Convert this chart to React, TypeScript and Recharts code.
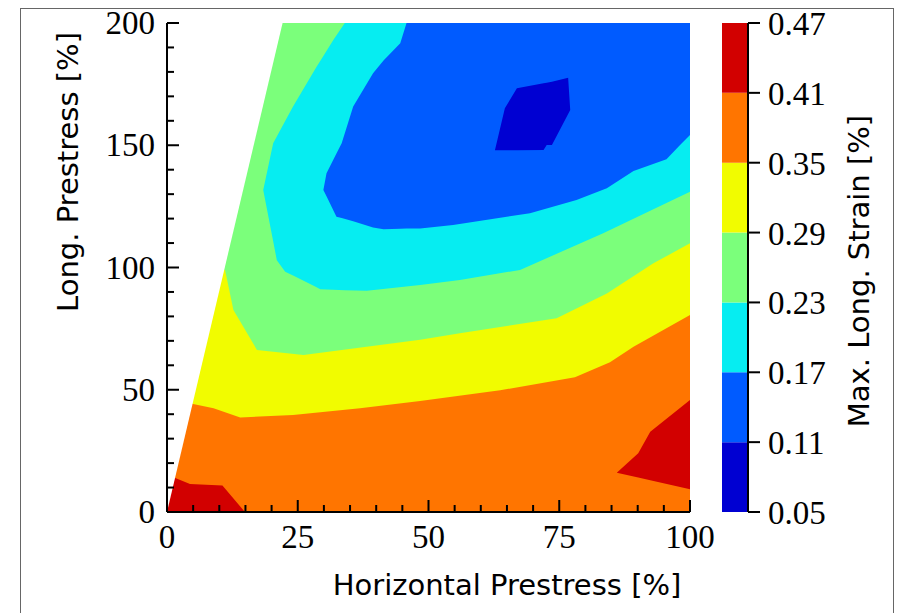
// Filled contour map of max. longitudinal strain vs. horizontal / longitudinal prestress.
import { ComposedChart, Area, XAxis, YAxis } from "recharts";

// axes
const X_MAJOR = [0, 25, 50, 75, 100];
const X_TICKS = [0, 5, 10, 15, 20, 25, 30, 35, 40, 45, 50, 55, 60, 65, 70, 75, 80, 85, 90, 95, 100];
const Y_MAJOR = [0, 50, 100, 150, 200];
const Y_TICKS = [0, 10, 20, 30, 40, 50, 60, 70, 80, 90, 100, 110, 120, 130, 140, 150, 160, 170, 180, 190, 200];

// contour levels (Max. Long. Strain [%]) and jet colours per band
const LEVELS = [0.05, 0.11, 0.17, 0.23, 0.29, 0.35, 0.41, 0.47];
const LEVEL_COLORS = ["#0000d2", "#005bff", "#06edf1", "#7bff7b", "#f1fc00", "#ff7500", "#d20000"];

// regions: [horizontal %, lower long. %, upper long. %]
// painted in order, each one on top of the previous
const BASE_035_041: number[][] = [[0, 0, 200], [100, 0, 200]];
const RED_ORIGIN: number[][] = [[0, 0, 14.5], [1.7, 0, 13.8], [4.4, 0, 11.5], [10.6, 0, 10.8], [14.9, 0, 0]];
const RED_CORNER: number[][] = [[86, 16.1, 16.1], [90.1, 14.1, 24], [92.4, 13, 32.8], [100, 9.3, 45.8]];
const BELOW_035: number[][] = [
  [0, 45.5, 200], [5, 44.2, 200], [8.9, 42.4, 200], [14, 38.7, 200], [24.1, 39.7, 200],
  [36.9, 42.4, 200], [48.4, 45.4, 200], [63.7, 49.8, 200], [78, 55.1, 200], [84.7, 61.2, 200],
  [89.2, 67.6, 200], [100, 80.6, 200],
];
const BELOW_029: number[][] = [
  [0, 99, 200], [11.1, 99, 200], [12.7, 82.6, 200], [17.2, 66.3, 200], [26.1, 64.2, 200],
  [48.4, 70.4, 200], [56, 73.1, 200], [74.5, 79.2, 200], [84.1, 89.4, 200], [93, 101.7, 200],
  [100, 109.9, 200],
];
const BELOW_023: number[][] = [
  [18.4, 131.7, 131.7], [20.3, 110.7, 150.8], [21, 103, 153.6], [22.6, 98.3, 159.9],
  [24.1, 96.7, 165.8], [28.6, 91.9, 182.1], [29.3, 91.1, 184.5], [31.8, 90.9, 193],
  [34, 90.7, 200], [38.2, 90.5, 200], [48.4, 92.8, 200], [56, 94.9, 200], [67.5, 99, 200],
  [83.4, 114, 200], [100, 131, 200],
];
const BELOW_017: number[][] = [
  [29.9, 131.7, 131.7], [30.5, 129.1, 138.5], [32.4, 120.8, 146.6], [33.4, 120.2, 150.8],
  [35.6, 118.9, 165.8], [39.4, 116.4, 179.4], [41.4, 115.6, 184.7], [44.6, 115.8, 191.7],
  [45.8, 115.9, 200], [48.4, 116, 200], [54.7, 117.4, 200], [69.4, 122.2, 200],
  [78.3, 127.6, 200], [84.1, 132.4, 200], [89.2, 139.5, 200], [95.5, 144.3, 200],
  [98.1, 150.1, 200], [100, 154.2, 200],
];
const BELOW_011: number[][] = [
  [62.7, 148, 148], [64.6, 148, 165.1], [66.9, 148, 173.3], [72, 148.1, 175.4],
  [72.6, 150.1, 175.6], [73.6, 150.1, 176], [76.7, 162.8, 177.6], [77.1, 164.4, 164.4],
];
// no data left of this edge
const NO_DATA: number[][] = [[0, 0, 200], [22.1, 200, 200]];

const toRows = (pts: number[][]) => pts.map(([x, lo, hi]) => ({ x, r: [lo, hi] }));

const LAYERS = [
  { data: toRows(BASE_035_041), color: LEVEL_COLORS[5] },
  { data: toRows(RED_ORIGIN), color: LEVEL_COLORS[6] },
  { data: toRows(RED_CORNER), color: LEVEL_COLORS[6] },
  { data: toRows(BELOW_035), color: LEVEL_COLORS[4] },
  { data: toRows(BELOW_029), color: LEVEL_COLORS[3] },
  { data: toRows(BELOW_023), color: LEVEL_COLORS[2] },
  { data: toRows(BELOW_017), color: LEVEL_COLORS[1] },
  { data: toRows(BELOW_011), color: LEVEL_COLORS[0] },
  { data: toRows(NO_DATA), color: "#ffffff" },
];

const CB_BANDS = LEVEL_COLORS.map((color, i) => ({
  color,
  data: [{ x: 0, r: [LEVELS[i], LEVELS[i + 1]] }, { x: 1, r: [LEVELS[i], LEVELS[i + 1]] }],
}));

const NUM_FONT = "'Liberation Serif', 'Times New Roman', serif";
const LABEL_FONT = "'DejaVu Sans', sans-serif";
const NUM_SIZE = 33;
const LABEL_SIZE = 29;
const AXIS_LINE = { stroke: "#000", strokeWidth: 2 };
const MAJOR_LEN = 12;
const MINOR_LEN = 7;

const BottomTick = (p: any) => {
  const v = p.payload.value;
  const major = X_MAJOR.includes(v);
  return (
    <g>
      <line x1={p.x} x2={p.x} y1={p.y} y2={p.y - (major ? MAJOR_LEN : MINOR_LEN)} stroke="#000" strokeWidth={2} />
      {major && (
        <text x={p.x} y={p.y + 36} textAnchor="middle" fontFamily={NUM_FONT} fontSize={NUM_SIZE} fill="#000">
          {v}
        </text>
      )}
    </g>
  );
};

const TopTick = (p: any) => {
  const major = X_MAJOR.includes(p.payload.value);
  return <line x1={p.x} x2={p.x} y1={p.y} y2={p.y + (major ? MAJOR_LEN : MINOR_LEN)} stroke="#000" strokeWidth={2} />;
};

const LeftTick = (p: any) => {
  const v = p.payload.value;
  const major = Y_MAJOR.includes(v);
  return (
    <g>
      <line x1={p.x} x2={p.x + (major ? MAJOR_LEN : MINOR_LEN)} y1={p.y} y2={p.y} stroke="#000" strokeWidth={2} />
      {major && (
        <text x={p.x - 12} y={p.y + 11} textAnchor="end" fontFamily={NUM_FONT} fontSize={NUM_SIZE} fill="#000">
          {v}
        </text>
      )}
    </g>
  );
};

const RightTick = (p: any) => {
  const major = Y_MAJOR.includes(p.payload.value);
  return <line x1={p.x} x2={p.x - (major ? MAJOR_LEN : MINOR_LEN)} y1={p.y} y2={p.y} stroke="#000" strokeWidth={2} />;
};

const ColorbarTick = (p: any) => (
  <text x={p.x} y={p.y + 12} textAnchor="start" fontFamily={NUM_FONT} fontSize={NUM_SIZE} fill="#000">
    {p.payload.value.toFixed(2)}
  </text>
);

const XTitle = () => (
  <text x={507} y={595} textAnchor="middle" fontFamily={LABEL_FONT} fontSize={LABEL_SIZE} fill="#000">
    Horizontal Prestress [%]
  </text>
);

const YTitle = () => (
  <text x={78} y={172} transform="rotate(-90, 78, 172)" textAnchor="middle" fontFamily={LABEL_FONT} fontSize={LABEL_SIZE} fill="#000">
    Long. Prestress [%]
  </text>
);

const CbTitle = () => (
  <text x={869} y={271} transform="rotate(-90, 869, 271)" textAnchor="middle" fontFamily={LABEL_FONT} fontSize={LABEL_SIZE} fill="#000">
    Max. Long. Strain [%]
  </text>
);

export default function App() {
  return (
    <div style={{ position: "absolute", left: 0, top: 0, width: 897, height: 613, overflow: "hidden", background: "#fff" }}>
      {/* figure frame */}
      <div style={{ position: "absolute", left: 20, top: 8, width: 872, height: 640, border: "1.5px solid #666" }} />

      {/* contour plot */}
      <div style={{ position: "absolute", left: 0, top: 0 }}>
        <ComposedChart width={720} height={613} margin={{ top: 23, right: 30, bottom: 41, left: 97 }}>
          {LAYERS.map((l, i) => (
            <Area
              key={i}
              data={l.data}
              dataKey="r"
              type="linear"
              fill={l.color}
              fillOpacity={1}
              stroke="none"
              dot={false}
              activeDot={false}
              isAnimationActive={false}
            />
          ))}
          <XAxis
            dataKey="x" type="number" domain={[0, 100]} allowDataOverflow ticks={X_TICKS} interval={0}
            height={60} tickSize={0} tickMargin={0} tickLine={false} axisLine={AXIS_LINE} tick={BottomTick}
            label={{ content: XTitle }}
          />
          <XAxis
            xAxisId="top" orientation="top" dataKey="x" type="number" domain={[0, 100]} allowDataOverflow
            ticks={X_TICKS} interval={0} height={0} tickSize={0} tickMargin={0} tickLine={false}
            axisLine={AXIS_LINE} tick={TopTick}
          />
          <YAxis
            type="number" domain={[0, 200]} allowDataOverflow ticks={Y_TICKS} interval={0} width={70}
            tickSize={0} tickMargin={0} tickLine={false} axisLine={AXIS_LINE} tick={LeftTick}
            label={{ content: YTitle }}
          />
          <YAxis
            yAxisId="right" orientation="right" type="number" domain={[0, 200]} allowDataOverflow
            ticks={Y_TICKS} interval={0} width={0} tickSize={0} tickMargin={0} tickLine={false}
            axisLine={AXIS_LINE} tick={RightTick}
          />
        </ComposedChart>
      </div>

      {/* colour bar */}
      <div style={{ position: "absolute", left: 0, top: 0 }}>
        <ComposedChart width={897} height={613} margin={{ top: 23, right: 49, bottom: 101, left: 722 }}>
          {CB_BANDS.map((b, i) => (
            <Area
              key={i}
              data={b.data}
              dataKey="r"
              type="linear"
              fill={b.color}
              fillOpacity={1}
              stroke="none"
              dot={false}
              activeDot={false}
              isAnimationActive={false}
            />
          ))}
          <XAxis dataKey="x" type="number" domain={[0, 1]} height={0} tick={false} tickLine={false} axisLine={AXIS_LINE} />
          <XAxis xAxisId="top" orientation="top" dataKey="x" type="number" domain={[0, 1]} height={0} tick={false} tickLine={false} axisLine={AXIS_LINE} />
          <YAxis type="number" domain={[0.05, 0.47]} allowDataOverflow width={0} tick={false} tickLine={false} axisLine={AXIS_LINE} />
          <YAxis
            yAxisId="cb" orientation="right" type="number" domain={[0.05, 0.47]} allowDataOverflow
            ticks={LEVELS} interval={0} width={100} tickSize={12} tickMargin={8}
            tickLine={{ stroke: "#000", strokeWidth: 2 }} axisLine={AXIS_LINE} tick={ColorbarTick}
            label={{ content: CbTitle }}
          />
        </ComposedChart>
      </div>
    </div>
  );
}
